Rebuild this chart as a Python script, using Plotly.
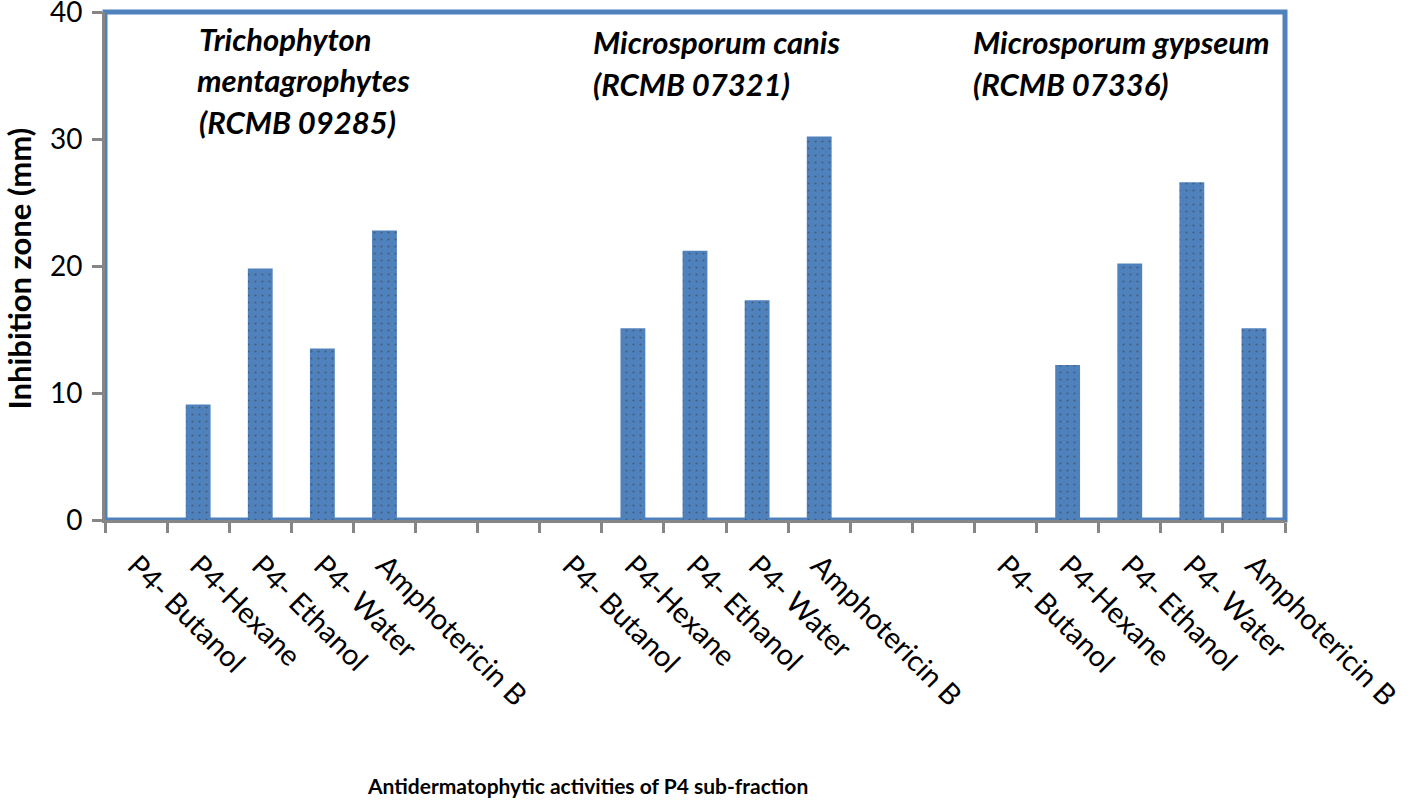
import plotly.graph_objects as go

categories = ["P4- Butanol", "P4-Hexane", "P4- Ethanol", "P4- Water", "Amphotericin B",
              "", "",
              "P4- Butanol", "P4-Hexane", "P4- Ethanol", "P4- Water", "Amphotericin B",
              "", "",
              "P4- Butanol", "P4-Hexane", "P4- Ethanol", "P4- Water", "Amphotericin B"]
values = [0, 9.1, 19.8, 13.5, 22.8,
          0, 0,
          0, 15.1, 21.2, 17.3, 30.2,
          0, 0,
          0, 12.2, 20.2, 26.6, 15.1]
y_ticks = [0, 10, 20, 30, 40]

# group annotation lines: text, x (category units), y (data units)
note_text = ["Trichophyton", "mentagrophytes", "(RCMB 09285)",
             "Microsporum canis", "(RCMB 07321)",
             "Microsporum gypseum", "(RCMB 07336)"]
note_x = [1.48, 1.45, 1.48, 7.82, 7.82, 13.95, 13.95]
note_y = [37.9, 34.65, 31.35, 37.6, 34.3, 37.6, 34.3]

xpos = [i + 0.5 for i in range(len(categories))]
FONT = "Lato, 'Liberation Sans', sans-serif"
BLUE = "#4F81BD"
GRAY = "#868686"

fig = go.Figure()
fig.add_trace(go.Bar(
    x=xpos, y=values, width=0.4,
    marker=dict(color=BLUE, line=dict(width=0),
                pattern=dict(shape=".", fgcolor="#3a3a3a", size=7, solidity=0.08)),
    showlegend=False,
))

for t, nx, ny in zip(note_text, note_x, note_y):
    fig.add_annotation(x=nx, y=ny, xref="x", yref="y", text="<b><i>" + t + "</i></b>",
                       showarrow=False, xanchor="left", yanchor="middle", align="left",
                       font=dict(family=FONT, size=31, color="black"))

# axis titles
fig.add_annotation(x=0.409, y=-0.522, xref="paper", yref="paper",
                   text="<b>Antidermatophytic activities of P4 sub-fraction</b>",
                   showarrow=False, xanchor="center", yanchor="middle",
                   font=dict(family=FONT, size=21, color="black"))
fig.add_annotation(x=-0.0725, y=0.496, xref="paper", yref="paper",
                   text="<b>Inhibition zone (mm)</b>", textangle=-90,
                   showarrow=False, xanchor="center", yanchor="middle",
                   font=dict(family=FONT, size=31, color="black"))

fig.add_shape(type="rect", xref="paper", yref="paper", x0=0, x1=1, y0=0, y1=1,
              line=dict(color=BLUE, width=5), layer="below")

fig.update_layout(
    width=1416, height=811,
    margin=dict(l=105, r=131, t=12, b=291),
    plot_bgcolor="white", paper_bgcolor="white",
    font=dict(family=FONT, color="black"),
    xaxis=dict(
        range=[0, 19], tickmode="array", tickvals=xpos, ticktext=categories,
        tickangle=45, ticks="", ticklabelstandoff=14, automargin=False,
        tickfont=dict(size=29, family=FONT),
        showline=True, linecolor=GRAY, linewidth=3, showgrid=False, zeroline=False,
        minor=dict(tick0=0, dtick=1, ticks="outside", ticklen=10, tickwidth=3, tickcolor=GRAY),
    ),
    yaxis=dict(
        range=[0, 40], tickvals=y_ticks, ticks="outside", ticklen=10, tickwidth=3,
        tickcolor=GRAY, tickfont=dict(size=28, family=FONT), automargin=False,
        ticklabelstandoff=4, ticklabeloverflow="allow",
        showline=True, linecolor=GRAY, linewidth=3, showgrid=False, zeroline=False,
    ),
)

fig.write_html("out.html", config={"displayModeBar": False},
               post_script="document.body.style.margin='0';")
